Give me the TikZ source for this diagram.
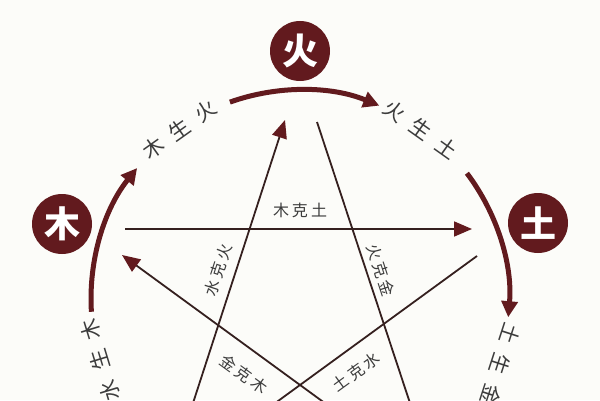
\documentclass[tikz,border=0pt]{standalone}
\usepackage{fontspec}
\newfontfamily\cjk{Noto Sans CJK SC}
\usetikzlibrary{arrows.meta,calc}
\definecolor{wxred}{HTML}{621A1E}
\definecolor{wxline}{HTML}{35201F}
\definecolor{wxtext}{HTML}{3C3C3C}
\definecolor{wxbg}{HTML}{FCFCF9}
\newcommand{\wxgap}{\hspace{11pt}}
\newcommand{\wxsgap}{\hspace{3pt}}
\begin{document}
\begin{tikzpicture}[x=1pt,y=1pt,
  element/.style={circle, fill=wxred, minimum size=60pt, inner sep=0pt, text=white,
    font=\cjk\bfseries\fontsize{36}{36}\selectfont},
  genarc/.style={draw=wxred, line width=5pt, -{Triangle[length=16pt,width=16pt]}},
  ke/.style={draw=wxline, line width=1.8pt},
  kearrow/.style={ke, -{Triangle[length=18pt,width=15pt,color=wxred]}},
  genlabel/.style={text=wxtext, inner sep=0pt, font=\cjk\fontsize{21}{21}\selectfont},
  kelabel/.style={text=wxtext, inner sep=0pt, font=\cjk\fontsize{16}{16}\selectfont}]
\useasboundingbox (0,0) rectangle (600,400);
\fill[wxbg] (0,0) rectangle (600,400);
\clip (0,0) rectangle (600,400);
\coordinate (O) at (300,101);
% elements
\node[element] (huo) at (300,349) {火};
\node[element] (mu) at (62,176) {木};
\node[element] (tu) at (538,177) {土};
% generating arcs
\draw[genarc] ($(O)+(109.6:209)$) arc[start angle=109.6, end angle=67.7, radius=209];
\draw[genarc] ($(O)+(183.5:209)$) arc[start angle=183.5, end angle=141.2, radius=209];
\draw[genarc] ($(O)+(37:209)$) arc[start angle=37, end angle=-5, radius=209];
% generating labels
\node[genlabel, rotate=35.4] (lmh) at ($(O)+(125.4:208)$) {木\wxgap 生\wxgap 火};
\node[genlabel, rotate=-35.4] (lht) at ($(O)+(54.6:208)$) {火\wxgap 生\wxgap 土};
\node[genlabel, rotate=107] (lsm) at ($(O)+(197:209)$) {水\wxgap 生\wxgap 木};
\node[genlabel, rotate=-108] (ltj) at ($(O)+(-18:211)$) {土\wxgap 生\wxgap 金};
% controlling star
\coordinate (a1) at (187.5,-20); \coordinate (a2) at (285,280);
\coordinate (b1) at (317,278);   \coordinate (b2) at (415.6,-20);
\coordinate (c1) at (125,171);   \coordinate (c2) at (472,171);
\coordinate (d1) at (477,144);   \coordinate (d2) at (252,-20);
\coordinate (e1) at (348,-20);   \coordinate (e2) at (122,145);
\draw[kearrow] (a1) -- (a2);
\draw[ke] (b1) -- (b2);
\draw[kearrow] (c1) -- (c2);
\draw[ke] (d1) -- (d2);
\draw[kearrow] (e1) -- (e2);
% controlling labels
\node[kelabel] (lmt) at (300,190) {木\wxsgap 克\wxsgap 土};
\node[kelabel, rotate=72] (lsh) at (218,130) {水\wxsgap 克\wxsgap 火};
\node[kelabel, rotate=-72] (lhj) at (381,130) {火\wxsgap 克\wxsgap 金};
\node[kelabel, rotate=-36] (ljm) at (244,26) {金\wxsgap 克\wxsgap 木};
\node[kelabel, rotate=36] (lts) at (356,28) {土\wxsgap 克\wxsgap 水};
\end{tikzpicture}
\end{document}
